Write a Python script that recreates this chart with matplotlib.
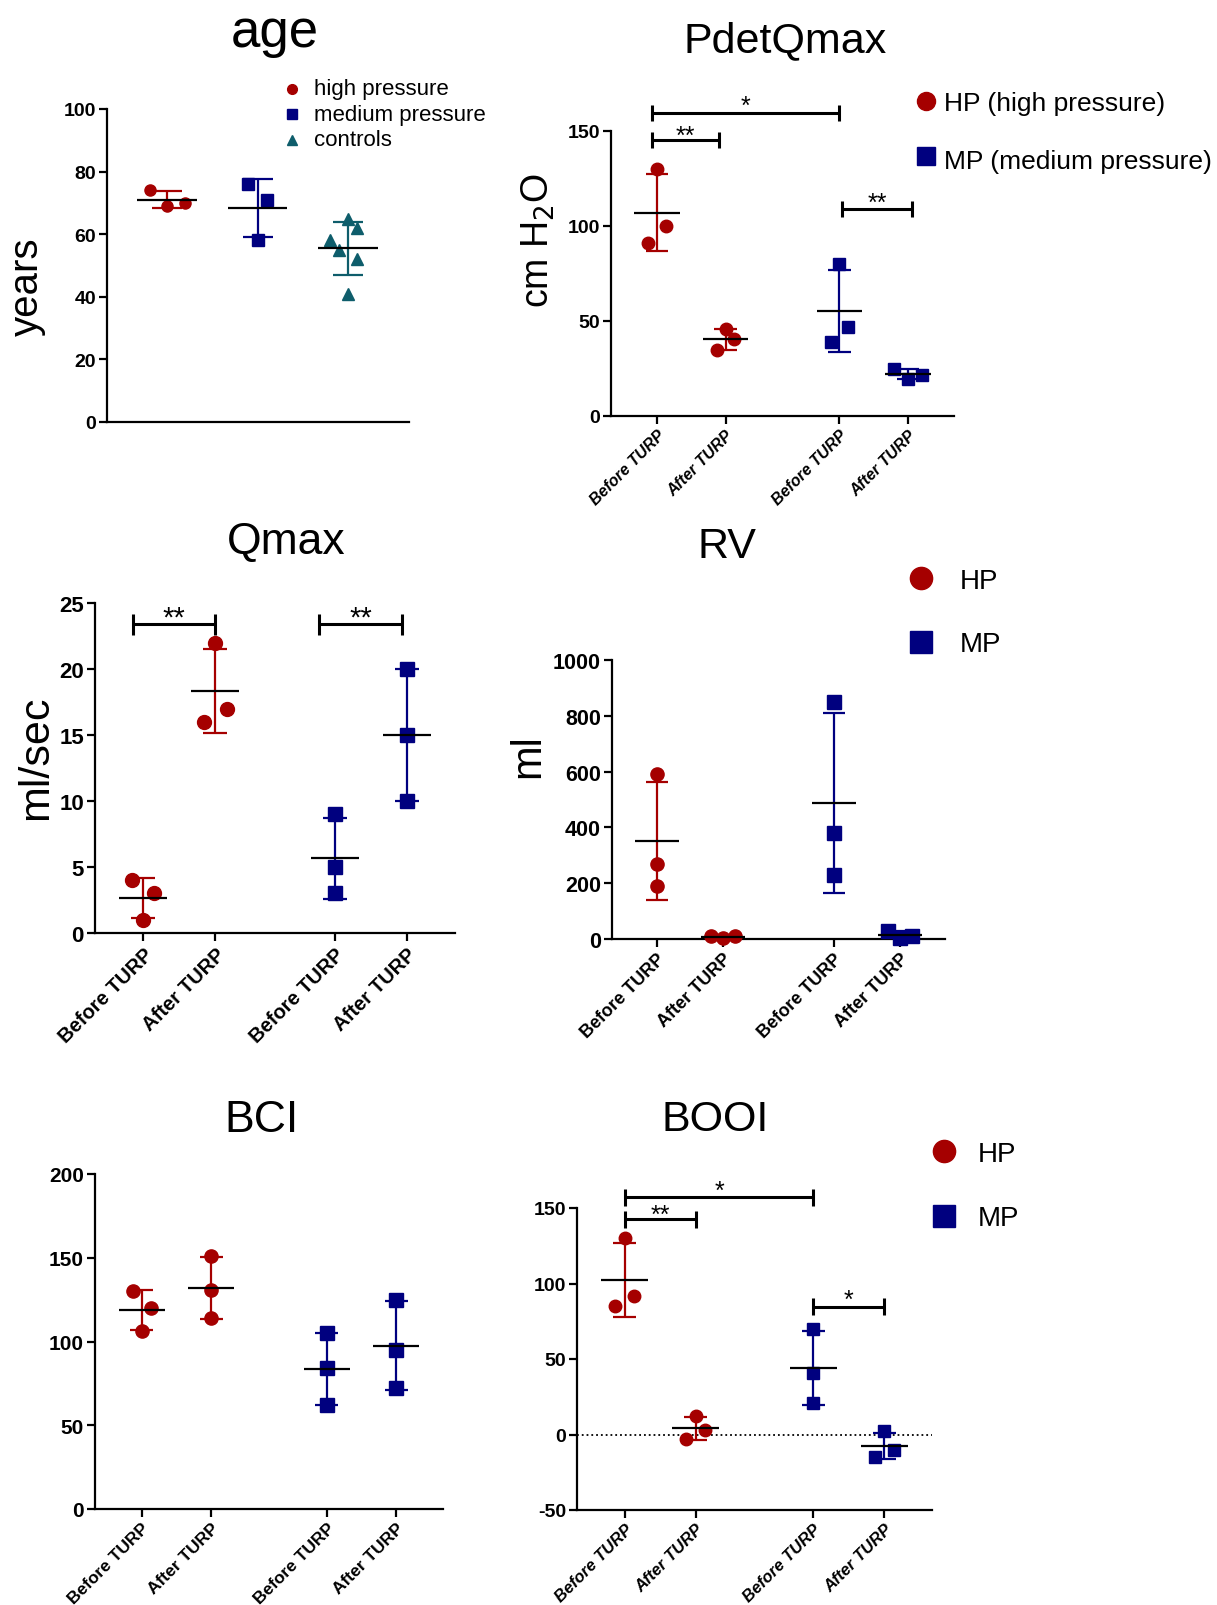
import numpy as np
import matplotlib
matplotlib.use("Agg")
import matplotlib.pyplot as plt
from matplotlib.lines import Line2D
from matplotlib.transforms import offset_copy

plt.rcParams['font.family'] = ['Liberation Sans', 'DejaVu Sans']

# ---- data ----
age_hp = [74, 69, 70]
age_mp = [76, 71, 58]
age_ctrl = [65, 62, 58, 55, 52, 41]

pdet_hp_before = [130, 100, 91]
pdet_hp_after = [46, 40.5, 35]
pdet_mp_before = [80, 47, 39]
pdet_mp_after = [25, 19.5, 21.5]

qmax_hp_before = [4, 3, 1]
qmax_hp_after = [22, 17, 16]
qmax_mp_before = [9, 5, 3]
qmax_mp_after = [20, 15, 10]

rv_hp_before = [590, 270, 190]
rv_hp_after = [12, 3, 10]
rv_mp_before = [850, 380, 230]
rv_mp_after = [30, 5, 12]

bci_hp_before = [130, 120, 106]
bci_hp_after = [151, 131, 114]
bci_mp_before = [105, 84, 62]
bci_mp_after = [125, 95, 72]

booi_hp_before = [130, 92, 85]
booi_hp_after = [12, 3, -3]
booi_mp_before = [70, 41, 21]
booi_mp_after = [2, -10, -15]

turp_labels = ['Before TURP', 'After TURP', 'Before TURP', 'After TURP']

RED = '#a50000'
NAVY = '#00007f'
TEAL = '#0e5d6b'

W, H = 1217, 1606
fig = plt.figure(figsize=(W / 100, H / 100), dpi=100)


def box(l, t, r, b):
    return [l / W, 1 - b / H, (r - l) / W, (b - t) / H]


def ftext(x, y, s, **kw):
    fig.text(x / W, 1 - y / H, s, **kw)


def fmark(x, y, marker, color, ms):
    fig.add_artist(Line2D([x / W], [1 - y / H], marker=marker, color=color,
                          ms=ms, ls='none', transform=fig.transFigure))


def style_ax(ax, ylim, yticks, ysize):
    ax.set_ylim(*ylim)
    for s in ['top', 'right']:
        ax.spines[s].set_visible(False)
    for s in ['left', 'bottom']:
        ax.spines[s].set_linewidth(1.6)
    ax.set_yticks(yticks, [str(t) for t in yticks], fontweight='bold', fontsize=ysize)
    ax.tick_params(axis='both', direction='out', length=6, width=1.6, pad=2)


def group(ax, x, vals, color, marker, ms, jit):
    vals = np.array(vals, dtype=float)
    m = vals.mean()
    sd = vals.std(ddof=1)
    ax.vlines(x, m - sd, m + sd, color=color, lw=1.6, zorder=2)
    ax.hlines([m - sd, m + sd], x - 0.165, x + 0.165, color=color, lw=1.6, zorder=2)
    ax.plot(x + np.array(jit), vals, ls='none', marker=marker, ms=ms,
            color=color, zorder=3, clip_on=False)
    ax.hlines(m, x - 0.33, x + 0.33, color='k', lw=1.6, zorder=4)


def bracket(ax, x1, x2, y, h, label, fs, dy):
    kw = dict(color='k', lw=2.2, clip_on=False, solid_capstyle='butt')
    ax.plot([x1, x2], [y, y], **kw)
    ax.plot([x1, x1], [y - h, y + h], **kw)
    ax.plot([x2, x2], [y - h, y + h], **kw)
    tr = offset_copy(ax.transData, fig=fig, y=dy, units='points')
    ax.text((x1 + x2) / 2, y, label, ha='center', va='baseline', fontsize=fs,
            transform=tr)


def turp_ticks(ax, size, italic=False):
    ax.set_xlim(0.33, 5.33)
    ax.set_xticks(xpos, turp_labels, rotation=45, ha='right', rotation_mode='anchor',
                  fontweight='bold', fontstyle='italic' if italic else 'normal',
                  fontsize=size)


xpos = np.array([1, 2, 3.66, 4.66])

# ---- age ----
ax = fig.add_axes(box(107, 110, 409, 423))
style_ax(ax, (0, 100), [0, 20, 40, 60, 80, 100], 14)
ax.set_xlim(0.34, 3.67)
ax.set_xticks([])
group(ax, 1, age_hp, RED, 'o', 8, [-0.19, 0, 0.2])
group(ax, 2, age_mp, NAVY, 's', 8, [-0.1, 0.1, 0])
group(ax, 3, age_ctrl, TEAL, '^', 8, [0, 0.1, -0.2, -0.1, 0.1, 0])
ftext(275, 33, 'age', fontsize=38, ha='center', va='center')
ftext(27, 287, 'years', fontsize=29, rotation=90, ha='center', va='center')
for i, (lab, mk, c) in enumerate([('high pressure', 'o', RED),
                                   ('medium pressure', 's', NAVY),
                                   ('controls', '^', TEAL)]):
    fmark(292, 89.5 + 25.5 * i, mk, c, 7)
    ftext(314, 90 + 25.5 * i, lab, fontsize=16, va='center')

# ---- PdetQmax ----
ax = fig.add_axes(box(611, 132, 954, 417))
style_ax(ax, (0, 150), [0, 50, 100, 150], 14)
turp_ticks(ax, 11.5, italic=True)
group(ax, xpos[0], pdet_hp_before, RED, 'o', 9, [0, 0.13, -0.13])
group(ax, xpos[1], pdet_hp_after, RED, 'o', 9, [0, 0.13, -0.12])
group(ax, xpos[2], pdet_mp_before, NAVY, 's', 9, [0, 0.13, -0.12])
group(ax, xpos[3], pdet_mp_after, NAVY, 's', 9, [-0.21, 0, 0.21])
bracket(ax, 0.93, xpos[2], 159.5, 4.4, '*', 18, 0)
bracket(ax, 0.93, 1.91, 145.3, 4.4, '**', 18, -2)
bracket(ax, 3.7, 4.72, 109, 4.4, '**', 18, -1)
ftext(785, 41, 'PdetQmax', fontsize=31, ha='center', va='center')
ftext(538, 241, 'cm H$_2$O', fontsize=27, rotation=90, ha='center', va='center')
fmark(926, 102, 'o', RED, 13)
ftext(944, 104, 'HP (high pressure)', fontsize=19, va='center')
fmark(926, 157, 's', NAVY, 13)
ftext(944, 162, 'MP (medium pressure)', fontsize=19, va='center')

# ---- Qmax ----
ax = fig.add_axes(box(95, 604, 455, 934))
style_ax(ax, (0, 25), [0, 5, 10, 15, 20, 25], 16)
turp_ticks(ax, 14.5)
group(ax, xpos[0], qmax_hp_before, RED, 'o', 10, [-0.15, 0.15, 0])
group(ax, xpos[1], qmax_hp_after, RED, 'o', 10, [0, 0.16, -0.15])
group(ax, xpos[2], qmax_mp_before, NAVY, 's', 10, [0, 0, 0])
group(ax, xpos[3], qmax_mp_after, NAVY, 's', 10, [0, 0, 0])
bracket(ax, 0.86, 2.0, 23.4, 0.8, '**', 21, -1)
bracket(ax, 3.44, 4.6, 23.4, 0.8, '**', 21, -1)
ftext(286, 543, 'Qmax', fontsize=32, ha='center', va='center')
ftext(36, 758, 'ml/sec', fontsize=31, rotation=90, ha='center', va='center')

# ---- RV ----
ax = fig.add_axes(box(612, 661, 945, 940))
style_ax(ax, (0, 1000), [0, 200, 400, 600, 800, 1000], 15.5)
turp_ticks(ax, 13)
group(ax, xpos[0], rv_hp_before, RED, 'o', 9.5, [0, 0, 0])
group(ax, xpos[1], rv_hp_after, RED, 'o', 9.5, [-0.19, 0, 0.18])
group(ax, xpos[2], rv_mp_before, NAVY, 's', 9.5, [0, 0, 0])
group(ax, xpos[3], rv_mp_after, NAVY, 's', 9.5, [-0.18, 0, 0.18])
ftext(727, 547, 'RV', fontsize=31, ha='center', va='center')
ftext(528, 756, 'ml', fontsize=30, rotation=90, ha='center', va='center')
fmark(921, 579, 'o', RED, 16)
ftext(960, 582, 'HP', fontsize=20, va='center')
fmark(921, 643, 's', NAVY, 16)
ftext(960, 645, 'MP', fontsize=20, va='center')

# ---- BCI ----
ax = fig.add_axes(box(95, 1175, 443, 1510))
style_ax(ax, (0, 200), [0, 50, 100, 150, 200], 15)
turp_ticks(ax, 12.5)
group(ax, xpos[0], bci_hp_before, RED, 'o', 9.5, [-0.13, 0.14, 0])
group(ax, xpos[1], bci_hp_after, RED, 'o', 9.5, [0, 0, 0])
group(ax, xpos[2], bci_mp_before, NAVY, 's', 9.5, [0, 0, 0])
group(ax, xpos[3], bci_mp_after, NAVY, 's', 9.5, [0, 0, 0])
ftext(262, 1120, 'BCI', fontsize=32, ha='center', va='center')

# ---- BOOI ----
ax = fig.add_axes(box(577, 1209, 932, 1511))
style_ax(ax, (-50, 150), [-50, 0, 50, 100, 150], 14)
turp_ticks(ax, 12, italic=True)
ax.axhline(0, color='k', ls=':', lw=1.3, zorder=1)
group(ax, xpos[0], booi_hp_before, RED, 'o', 9, [0, 0.13, -0.13])
group(ax, xpos[1], booi_hp_after, RED, 'o', 9, [0, 0.13, -0.13])
group(ax, xpos[2], booi_mp_before, NAVY, 's', 9, [0, 0, 0])
group(ax, xpos[3], booi_mp_after, NAVY, 's', 9, [0, 0.13, -0.13])
bracket(ax, xpos[0], xpos[2], 157, 5.5, '*', 18, 0)
bracket(ax, xpos[0], xpos[1], 142.5, 5.5, '**', 18, -2)
bracket(ax, xpos[2], xpos[3], 84.6, 5.5, '*', 18, 0)
ftext(715, 1120, 'BOOI', fontsize=31, ha='center', va='center')
fmark(944, 1152, 'o', RED, 16)
ftext(978, 1155, 'HP', fontsize=20, va='center')
fmark(944, 1217, 's', NAVY, 16)
ftext(978, 1219, 'MP', fontsize=20, va='center')

fig.savefig('out.png', dpi=100)
